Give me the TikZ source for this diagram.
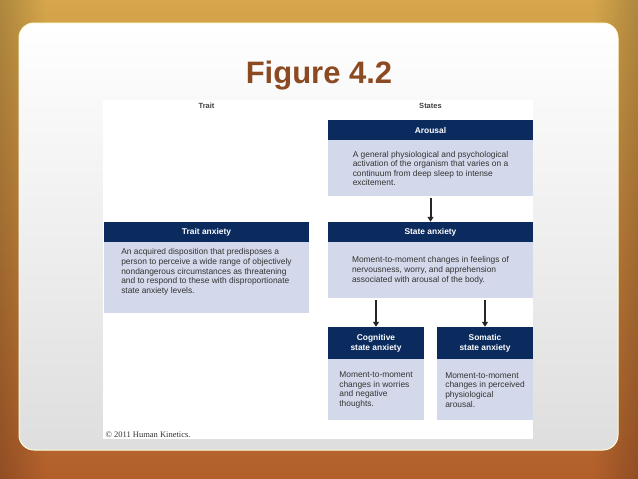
\documentclass[tikz,border=0pt]{standalone}
\usepackage{fontspec}
\setmainfont{Liberation Sans}
\newfontfamily\copyserif{Liberation Serif}
\usepackage{xcolor}
\usepackage{tikz}
\usetikzlibrary{positioning, arrows.meta, calc, fadings}

\definecolor{navyhead}{HTML}{0B2B5E}
\definecolor{lavbody}{HTML}{D3D9EA}
\definecolor{titlebrown}{HTML}{8C4A22}
\definecolor{goldtop}{HTML}{D5A64C}
\definecolor{rustmid}{HTML}{C3843A}
\definecolor{rustbottom}{HTML}{B25F2B}
\definecolor{bodytext}{HTML}{333333}

\begin{document}
\begin{tikzpicture}[x=1pt, y=-1pt,
    head/.style={fill=navyhead, text=white, font=\fontsize{8.4}{10}\selectfont\bfseries,
                 minimum height=20pt, inner sep=0pt, align=center},
    body/.style={fill=lavbody, text=bodytext, font=\fontsize{8.4}{9.6}\selectfont,
                 align=left, inner sep=0pt},
    colhead/.style={font=\fontsize{7.5}{9}\selectfont\bfseries, text=black!75},
    flow/.style={-{Triangle[width=6pt,length=5pt]}, line width=2pt, black!85,
                 shorten <=1.5pt}]
            % background and slide panel
            \useasboundingbox (0,0) rectangle (638,479);
            \shade[top color=goldtop, middle color=rustmid, bottom color=rustbottom] (0,0) rectangle (638,479);
            \fill[black, opacity=.18, path fading=east] (0,0) rectangle (45,479);
            \fill[black, opacity=.18, path fading=west] (593,0) rectangle (638,479);
            \shade[top color=white, bottom color=black!13, draw=white!85!yellow, line width=1pt,
                   rounded corners=15pt] (19,23) rectangle (618,450);
            \fill[white] (103,100) rectangle (533,439);

            % title
            \node[font=\fontsize{31}{31}\selectfont\bfseries, text=titlebrown, anchor=base] (title) at (319,83) {Figure 4.2};

            % column labels
            \node[colhead] (traitlabel) at (206.5,106) {Trait};
            \node[colhead] (stateslabel) at (430.5,106) {States};

            % arousal
            \node[head, minimum width=205pt] (arousalhead) at (430.5,130) {Arousal};
            \node[body, minimum width=205pt, minimum height=56pt, below=0pt of arousalhead] (arousalbody)
              {A general physiological and psychological\\activation of the organism that varies on a\\continuum from deep sleep to intense\\excitement.};

            % trait anxiety
            \node[head, minimum width=205pt] (traithead) at (206.5,232) {Trait anxiety};
            \node[body, minimum width=205pt, minimum height=71pt, below=0pt of traithead] (traitbody)
              {An acquired disposition that predisposes a\\person to perceive a wide range of objectively\\nondangerous circumstances as threatening\\and to respond to these with disproportionate\\state anxiety levels.\\[4pt]};

            % state anxiety
            \node[head, minimum width=205pt] (statehead) at (430.5,232) {State anxiety};
            \node[body, minimum width=205pt, minimum height=56pt, below=0pt of statehead] (statebody)
              {Moment-to-moment changes in feelings of\\nervousness, worry, and apprehension\\associated with arousal of the body.};

            % cognitive and somatic
            \node[head, minimum width=96pt, minimum height=32pt] (coghead) at (376,343) {Cognitive\\state anxiety};
            \node[body, minimum width=96pt, minimum height=61pt, below=0pt of coghead] (cogbody)
              {Moment-to-moment\\changes in worries\\and negative\\thoughts.};
            \node[head, minimum width=96pt, minimum height=32pt] (somhead) at (485,343) {Somatic\\state anxiety};
            \node[body, minimum width=96pt, minimum height=61pt, below=0pt of somhead] (sombody)
              {Moment-to-moment\\changes in perceived\\physiological\\arousal.};

            % arrows
            \draw[flow] (arousalbody) -- (statehead);
            \draw[flow] (statebody.south -| coghead) -- (coghead);
            \draw[flow] (statebody.south -| somhead) -- (somhead);

            % copyright
            \node[font=\copyserif\fontsize{8.5}{10}\selectfont, text=black!80, anchor=west] (copy) at (102,435) {© 2011 Human Kinetics.};
\end{tikzpicture}
\end{document}
